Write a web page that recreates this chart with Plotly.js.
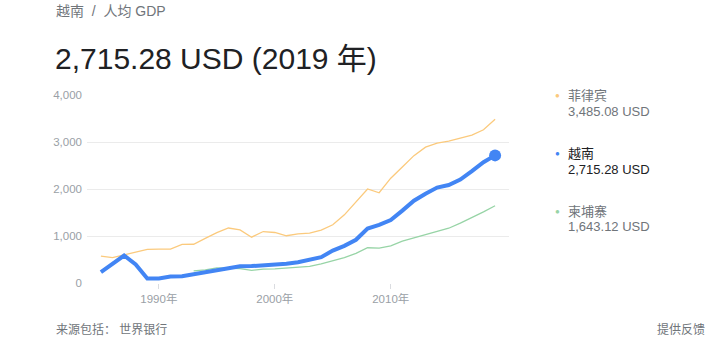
<!DOCTYPE html>
<html>
<head>
<meta charset="utf-8">
<script src="https://cdn.plot.ly/plotly-3.0.1.min.js"></script>
<style>
html,body{margin:0;padding:0;background:#fff;}
#chart{width:705px;height:352px;}
</style>
</head>
<body>
<div id="chart"></div>
<script>
// ---- data ----
const yearsMain = [1985,1986,1987,1988,1989,1990,1991,1992,1993,1994,1995,1996,1997,1998,1999,2000,2001,2002,2003,2004,2005,2006,2007,2008,2009,2010,2011,2012,2013,2014,2015,2016,2017,2018,2019];
const vietnam = [231,420,585,395,97,98,140,143,188,225,285,330,355,360,370,395,410,440,490,550,690,790,920,1160,1235,1340,1540,1750,1900,2030,2085,2200,2380,2570,2715.28];
const philippines = [570,540,600,660,715,720,720,820,825,950,1070,1170,1130,975,1095,1075,1005,1045,1060,1125,1240,1450,1730,2000,1920,2230,2470,2710,2890,2975,3020,3090,3145,3260,3485.08];
const yearsCambodia = [1993,1994,1995,1996,1997,1998,1999,2000,2001,2002,2003,2004,2005,2006,2007,2008,2009,2010,2011,2012,2013,2014,2015,2016,2017,2018,2019];
const cambodia = [260,280,320,318,305,270,297,300,318,335,355,405,470,540,630,750,740,790,890,960,1020,1095,1165,1275,1390,1515,1643.12];
const seriesNames = ['菲律宾','越南','柬埔寨'];
const latestLabels = ['3,485.08 USD','2,715.28 USD','1,643.12 USD'];
const xTickVals = [1990,2000,2010];
const xTickText = ['1990年','2000年','2010年'];
const yTickVals = [0,1000,2000,3000,4000];
const yTickText = ['0','1,000','2,000','3,000','4,000'];
const headline = '2,715.28 USD (2019 年)';
const breadcrumb = '越南  /  人均 GDP';
const sourceText = '来源包括： 世界银行';
const feedbackText = '提供反馈';

const FONT = '"Liberation Sans", Arial, "Noto Sans CJK SC", sans-serif';
const W = 705, H = 352;
const M = {l:87, r:196, t:94.5, b:68.7};
const pw = W - M.l - M.r, ph = H - M.t - M.b;
const px = x => (x - M.l) / pw;
const py = y => 1 - (y - M.t) / ph;

const colors = ['#fbca7d','#4285f4','#97d4a6'];

const traces = [
  {x: yearsMain, y: philippines, type:'scatter', mode:'lines', line:{color:colors[0], width:1.3}, hoverinfo:'skip', name:seriesNames[0]},
  {x: yearsCambodia, y: cambodia, type:'scatter', mode:'lines', line:{color:colors[2], width:1.3}, hoverinfo:'skip', name:seriesNames[2]},
  {x: yearsMain, y: vietnam, type:'scatter', mode:'lines', line:{color:colors[1], width:4}, hoverinfo:'skip', name:seriesNames[1]},
  {x: [yearsMain[yearsMain.length-1]], y: [vietnam[vietnam.length-1]], type:'scatter', mode:'markers', marker:{color:colors[1], size:12}, hoverinfo:'skip', showlegend:false}
];

const ann = [];
function addText(t, xpx, ypx, size, color, anchor){
  ann.push({text:t, xref:'paper', yref:'paper', x:px(xpx), y:py(ypx), xanchor:anchor||'left', yanchor:'middle', showarrow:false, font:{family:FONT, size:size, color:color}});
}
addText(breadcrumb, 54, 10, 14, '#70757a');
addText(headline, 53, 58, 30, '#202124');
addText(sourceText, 54, 330, 12, '#70757a');
addText(feedbackText, 707, 330, 12, '#70757a', 'right');

const legY = [[95,111],[153,169],[211,227]];
const legNameColors = ['#70757a','#202124','#70757a'];
const legValColors = ['#70757a','#202124','#70757a'];
for (let i=0;i<3;i++){
  addText('●', 553, legY[i][0], 8, colors[i]);
  addText(seriesNames[i], 566, legY[i][0], 13, legNameColors[i]);
  addText(latestLabels[i], 566, legY[i][1], 13, legValColors[i]);
}

const layout = {
  width: W, height: H,
  margin: {l:M.l, r:M.r, t:M.t, b:M.b, pad:0},
  paper_bgcolor:'#fff', plot_bgcolor:'#fff',
  showlegend:false,
  font:{family:FONT, color:'#9aa0a6', size:11.5},
  xaxis:{range:[1983.8,2020.2], tickvals:xTickVals, ticktext:xTickText, showgrid:false, zeroline:false,
         ticks:'outside', ticklen:5, tickcolor:'#dadce0', showline:false, tickfont:{size:11.5, color:'#9aa0a6'}, fixedrange:true},
  yaxis:{range:[0,4000], tickvals:yTickVals, ticktext:yTickText, showgrid:true, gridcolor:'#ebebeb', gridwidth:1,
         zeroline:false, showline:false, ticks:'', ticklabelstandoff:4, tickfont:{size:11.5, color:'#9aa0a6'}, fixedrange:true},
  annotations: ann
};

Plotly.newPlot('chart', traces, layout, {displayModeBar:false, staticPlot:true});
</script>
</body>
</html>
